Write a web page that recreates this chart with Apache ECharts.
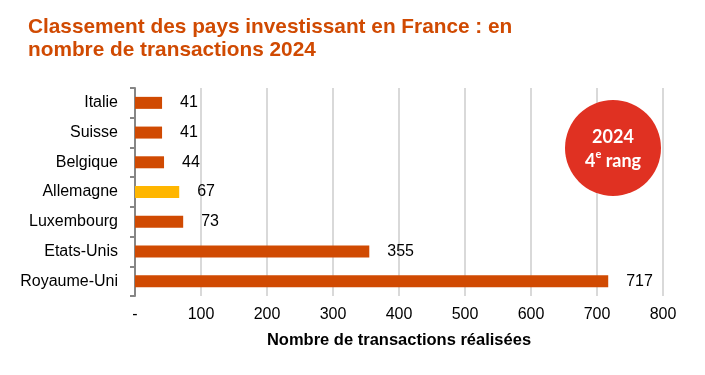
<!DOCTYPE html>
<html><head><meta charset="utf-8">
<script src="https://cdn.jsdelivr.net/npm/echarts@6/dist/echarts.min.js"></script>
<style>html,body{margin:0;padding:0;background:#fff}#c{width:705px;height:375px}</style>
</head><body><div id="c"></div>
<script>
const categories = ['Italie','Suisse','Belgique','Allemagne','Luxembourg','Etats-Unis','Royaume-Uni'];
const values = [41,41,44,67,73,355,717];
const highlight = 'Allemagne';
const xTicks = [0,100,200,300,400,500,600,700,800];

const chart = echarts.init(document.getElementById('c'));
chart.setOption({
  animation:false,
  title:{text:'Classement des pays investissant en France : en\nnombre de transactions 2024',left:28,top:16,padding:0,
    textStyle:{fontFamily:'Liberation Sans',fontWeight:'bold',fontSize:20.8,color:'#d04a02',lineHeight:23}},
  grid:{left:135,right:42,top:88,bottom:79},
  xAxis:{type:'value',min:xTicks[0],max:xTicks[xTicks.length-1],interval:100,
    name:'Nombre de transactions réalisées',nameLocation:'middle',nameGap:36,
    nameTextStyle:{fontFamily:'Liberation Sans',fontWeight:'bold',fontSize:16.5,color:'#000'},
    axisLine:{show:false},axisTick:{show:false},
    axisLabel:{fontFamily:'Liberation Sans',fontSize:16,color:'#000',margin:11,
      formatter:v=>v===0?'-':String(v)},
    splitLine:{show:true,lineStyle:{color:'#d9d9d9',width:2}}},
  yAxis:{type:'category',data:categories,inverse:true,
    axisLine:{show:true,lineStyle:{color:'#868686',width:2}},
    axisTick:{show:true,length:5,lineStyle:{color:'#868686',width:2}},
    axisLabel:{fontFamily:'Liberation Sans',fontSize:16,color:'#000',margin:17}},
  series:[{type:'bar',barWidth:12,
    data:values.map((v,i)=>({value:v,itemStyle:{color:categories[i]===highlight?'#ffb600':'#d04a02'}})),
    label:{show:true,position:'right',distance:18,fontFamily:'Liberation Sans',fontSize:16,color:'#000'}}],
  graphic:[{type:'circle',z:100,shape:{cx:613,cy:148,r:48},style:{fill:'#e03122'}},
    {type:'text',z:101,x:613,y:149,style:{text:'{a|2024}\n{b|4}{s|e}{b| rang}',align:'center',verticalAlign:'middle',
      rich:{a:{fontFamily:'Lato',fontWeight:'bold',fontSize:18,fill:'#fff',lineHeight:24,align:'center'},
        b:{fontFamily:'Lato',fontWeight:'bold',fontSize:18,fill:'#fff',lineHeight:24},
        s:{fontFamily:'Lato',fontWeight:'bold',fontSize:11,fill:'#fff',verticalAlign:'top',lineHeight:24,padding:[0,0,8,0]}}}}]
});
</script></body></html>
